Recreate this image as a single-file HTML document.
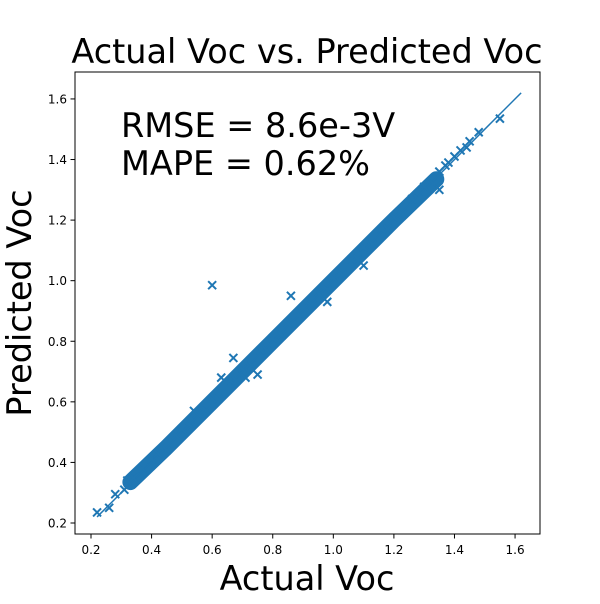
<!DOCTYPE html>
<html><head><meta charset="utf-8"><style>
body{margin:0;background:#fff;font-family:"DejaVu Sans","Liberation Sans",sans-serif}
svg text{font-family:"DejaVu Sans","Liberation Sans",sans-serif}
</style></head><body>
<svg id="chart" width="600" height="600" viewBox="0 0 600 600" xmlns="http://www.w3.org/2000/svg">
<rect width="600" height="600" fill="#fff"/>
<text x="307" y="63" font-size="33.5" text-anchor="middle">Actual Voc vs. Predicted Voc</text>
<text x="307" y="590" font-size="33.5" text-anchor="middle">Actual Voc</text>
<text transform="translate(31,303) rotate(-90)" font-size="33.5" text-anchor="middle">Predicted Voc</text>
<text x="121" y="137" font-size="33.5">RMSE = 8.6e-3V</text>
<text x="121" y="175" font-size="33.5">MAPE = 0.62%</text>
<g id="marks"></g>
<g id="axes"></g>
</svg>
<script>
const xTicks=[0.2,0.4,0.6,0.8,1.0,1.2,1.4,1.6];
const yTicks=[0.2,0.4,0.6,0.8,1.0,1.2,1.4,1.6];
const bandActual=[0.33,0.45,0.6,0.8,1.0,1.2,1.34];
const bandPred=[0.335,0.45,0.6,0.8,1.0,1.2,1.335];
const actual=[0.22,0.26,0.28,0.31,0.32,0.34,0.37,0.40,0.42,0.45,0.48,0.50,0.53,0.55,0.58,0.60,0.62,0.66,0.68,0.70,0.73,0.76,0.78,0.80,0.83,0.85,0.89,0.90,0.93,0.95,0.98,1.00,1.03,1.06,1.08,1.10,1.13,1.16,1.18,1.20,1.23,1.26,1.28,1.30,1.33,1.35,1.37,1.38,1.40,1.42,1.44,1.45,1.48,1.55,0.60,0.63,0.67,0.71,0.86,0.54,0.98,1.10,1.35,0.75];
const predicted=[0.235,0.25,0.295,0.31,0.34,0.35,0.38,0.41,0.43,0.44,0.49,0.51,0.52,0.56,0.57,0.61,0.61,0.67,0.67,0.71,0.72,0.77,0.77,0.81,0.82,0.86,0.88,0.91,0.92,0.96,0.97,1.01,1.02,1.07,1.07,1.11,1.12,1.17,1.17,1.21,1.22,1.27,1.27,1.31,1.32,1.36,1.38,1.39,1.41,1.43,1.44,1.46,1.49,1.535,0.985,0.68,0.745,0.68,0.95,0.57,0.93,1.05,1.30,0.69];
const X=v=>91+(v-0.2)*302.9, Y=v=>523-(v-0.2)*302.9;
const NS="http://www.w3.org/2000/svg", C="#1f77b4";
const marks=document.getElementById('marks'), axes=document.getElementById('axes');
function mk(t,a,p){const e=document.createElementNS(NS,t);for(const k in a)e.setAttribute(k,a[k]);p.appendChild(e);return e;}
let d=bandActual.map((a,i)=>(i?'L':'M')+X(a)+','+Y(bandPred[i])).join('');
const band=mk('path',{d:d,stroke:C,'stroke-width':16,fill:'none','stroke-linecap':'round'},marks);


const line=mk('line',{x1:X(0.22),y1:Y(0.22),x2:X(1.62),y2:Y(1.62),stroke:C,'stroke-width':1.5},marks);


actual.forEach((a,i)=>{const x=X(a),y=Y(predicted[i]),r=4;
 const g=mk('path',{d:`M${x-r},${y-r}L${x+r},${y+r}M${x-r},${y+r}L${x+r},${y-r}`,stroke:C,'stroke-width':2,fill:'none'},marks);
 
 });
const fr=mk('rect',{x:75,y:72,width:465,height:462,fill:'none',stroke:'#000','stroke-width':1},axes);


xTicks.forEach(t=>{const x=X(t);mk('line',{x1:x,x2:x,y1:534,y2:538.5,stroke:'#000'},axes);
 const tx=mk('text',{x:x,y:554,'font-size':12,'text-anchor':'middle'},axes);tx.textContent=t.toFixed(1);
 
 });
yTicks.forEach(t=>{const y=Y(t);mk('line',{x1:70.5,x2:75,y1:y,y2:y,stroke:'#000'},axes);
 const tx=mk('text',{x:67,y:y+4.5,'font-size':12,'text-anchor':'end'},axes);tx.textContent=t.toFixed(1);
 
 });
</script>
</body></html>
